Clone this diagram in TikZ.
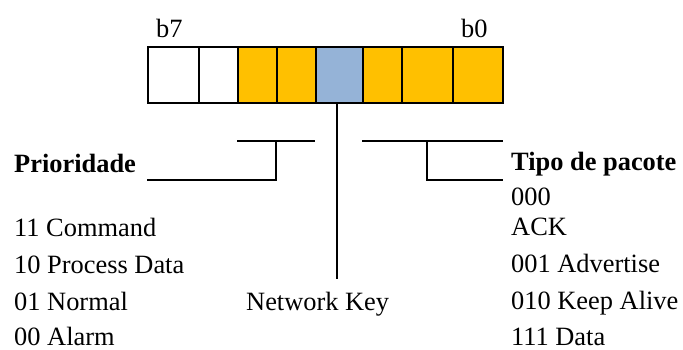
\documentclass[tikz,border=0pt]{standalone}
\usepackage{fontspec}
\setmainfont{Liberation Serif}
\definecolor{orangecell}{HTML}{FFC000}
\definecolor{bluecell}{HTML}{95B3D7}
\begin{document}
\begin{tikzpicture}[x=1pt,y=-1pt,
  cell/.style={draw=black,line width=2pt,anchor=north west,inner sep=0pt,minimum height=56pt},
  lbl/.style={anchor=base west,inner sep=0pt,font=\fontsize{26.4}{30}\selectfont},
  blbl/.style={lbl,font=\fontsize{26.4}{30}\selectfont\bfseries},
  wire/.style={line width=2pt}]
\useasboundingbox (0,0) rectangle (683,349);
% cells
\node[cell,fill=white,minimum width=51pt] (c1) at (147,46) {};
\node[cell,fill=white,minimum width=39pt] (c2) at (198,46) {};
\node[cell,fill=orangecell,minimum width=39pt] (c3) at (237,46) {};
\node[cell,fill=orangecell,minimum width=39pt] (c4) at (276,46) {};
\node[cell,fill=bluecell,minimum width=47pt] (c5) at (315,46) {};
\node[cell,fill=orangecell,minimum width=39pt] (c6) at (362,46) {};
\node[cell,fill=orangecell,minimum width=51pt] (c7) at (401,46) {};
\node[cell,fill=orangecell,minimum width=50pt] (c8) at (452,46) {};
% bit labels
\node[lbl] (b7) at (156,37) {b7};
\node[lbl] (b0) at (461,37) {b0};
% left bracket
\coordinate (lt1) at (237,141);
\coordinate (lt2) at (315,141);
\coordinate (lm) at (276,141);
\coordinate (lb) at (276,180);
\coordinate (le) at (147,180);
\draw[wire] (lt1) -- (lt2);
\draw[wire] (lm) -- (lb) -- (le);
% right bracket
\coordinate (rt1) at (362,141);
\coordinate (rt2) at (503,141);
\coordinate (rm) at (427,141);
\coordinate (rb) at (427,180);
\coordinate (re) at (503,180);
\draw[wire] (rt1) -- (rt2);
\draw[wire] (rm) -- (rb) -- (re);
% centre line
\coordinate (ce) at (337,279);
\draw[wire] (c5.south -| ce) -- (ce);
% texts
\node[blbl] (prio) at (14,172) {Prioridade};
\node[lbl] (p11) at (14,236) {11 Command};
\node[lbl] (p10) at (14,273) {10 Process Data};
\node[lbl] (p01) at (14,310) {01 Normal};
\node[lbl] (p00) at (14,345.5) {00 Alarm};
\node[lbl] (nk) at (246,310) {Network Key};
\node[blbl] (tipo) at (511,170) {Tipo de pacote};
\node[lbl] (t000) at (511,205) {000};
\node[lbl] (tack) at (511,235) {ACK};
\node[lbl] (t001) at (511,272) {001 Advertise};
\node[lbl] (t010) at (511,309) {010 Keep Alive};
\node[lbl] (t111) at (511,345.5) {111 Data};
\end{tikzpicture}
\end{document}
